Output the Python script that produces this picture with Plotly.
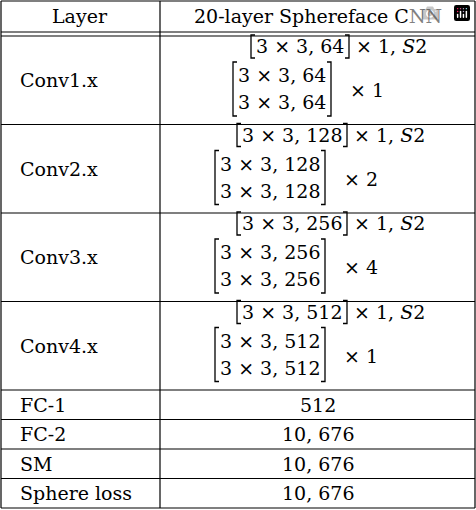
import plotly.graph_objects as go

W, H = 476, 510
layers = ["Conv1.x", "Conv2.x", "Conv3.x", "Conv4.x", "FC-1", "FC-2", "SM", "Sphere loss"]
channels = [64, 128, 256, 512]
repeats = [1, 2, 4, 1]
fc_values = ["512", "10, 676", "10, 676", "10, 676"]

FONT = dict(family="DejaVu Serif, Liberation Serif, serif", size=19, color="black")
col_x = 160
conv_h = 88.5
small_h = 29.5
top = 36
bounds = [top]
for _ in channels:
    bounds.append(bounds[-1] + conv_h)
for _ in fc_values:
    bounds.append(bounds[-1] + small_h)

fig = go.Figure()
shapes = []
ann = []

def line(x0, y0, x1, y1, w=1.2):
    shapes.append(dict(type="line", x0=x0, y0=y0, x1=x1, y1=y1,
                       line=dict(color="black", width=w)))

def text(x, y, s, anchor="center", size=19):
    f = dict(FONT); f["size"] = size
    ann.append(dict(x=x, y=y, text=s, showarrow=False, xanchor=anchor,
                    yanchor="middle", font=f))

def bracket(x0, x1, y0, y1):
    d = 4
    shapes.append(dict(type="path", path=f"M {x0+d},{y0} L {x0},{y0} L {x0},{y1} L {x0+d},{y1}",
                       line=dict(color="black", width=1.3)))
    shapes.append(dict(type="path", path=f"M {x1-d},{y0} L {x1},{y0} L {x1},{y1} L {x1-d},{y1}",
                       line=dict(color="black", width=1.3)))

line(1, 1, W - 1, 1)
line(1, 1, 1, bounds[-1])
line(W - 1, 1, W - 1, bounds[-1])
line(col_x, 1, col_x, bounds[-1])
line(1, 32, W - 1, 32)
text(80, 16, "Layer")
text(318, 16, "20-layer Sphereface CNN")
for b in bounds:
    line(1, b, W - 1, b)

for i, (ch, rep) in enumerate(zip(channels, repeats)):
    y0 = bounds[i]
    text(18, y0 + conv_h / 2, layers[i], anchor="left")
    nd = len(str(ch))
    wtxt = 68 + 12 * nd
    sx = 300 if nd == 2 else 292
    text(sx, y0 + 10, f"3 × 3, {ch}")
    bracket(sx - wtxt / 2 - 3, sx + wtxt / 2 + 3, y0 - 1, y0 + 22)
    text(sx + wtxt / 2 + 8, y0 + 10, "× 1, <i>S</i>2", anchor="left")
    mx = 282 if nd == 2 else 270
    text(mx, y0 + 39, f"3 × 3, {ch}")
    text(mx, y0 + 66, f"3 × 3, {ch}")
    bracket(mx - wtxt / 2 - 3, mx + wtxt / 2 + 3, y0 + 26, y0 + 80)
    text(mx + wtxt / 2 + 20, y0 + 54, f"× {rep}", anchor="left")

for j, v in enumerate(fc_values):
    y0 = bounds[len(channels) + j]
    text(18, y0 + small_h / 2, layers[len(channels) + j], anchor="left")
    text(318, y0 + small_h / 2, v)

fig.update_layout(width=W, height=H, margin=dict(l=0, r=0, t=0, b=0),
                  paper_bgcolor="white", plot_bgcolor="white",
                  shapes=shapes, annotations=ann,
                  xaxis=dict(range=[0, W], visible=False, fixedrange=True),
                  yaxis=dict(range=[H, 0], visible=False, fixedrange=True))
fig.write_html("out.html")

# drop the default page margin so the figure fits the window exactly
with open("out.html") as fh:
    page = fh.read()
page = page.replace("<head>", "<head><style>body{margin:0;overflow:hidden}</style>", 1)
with open("out.html", "w") as fh:
    fh.write(page)
